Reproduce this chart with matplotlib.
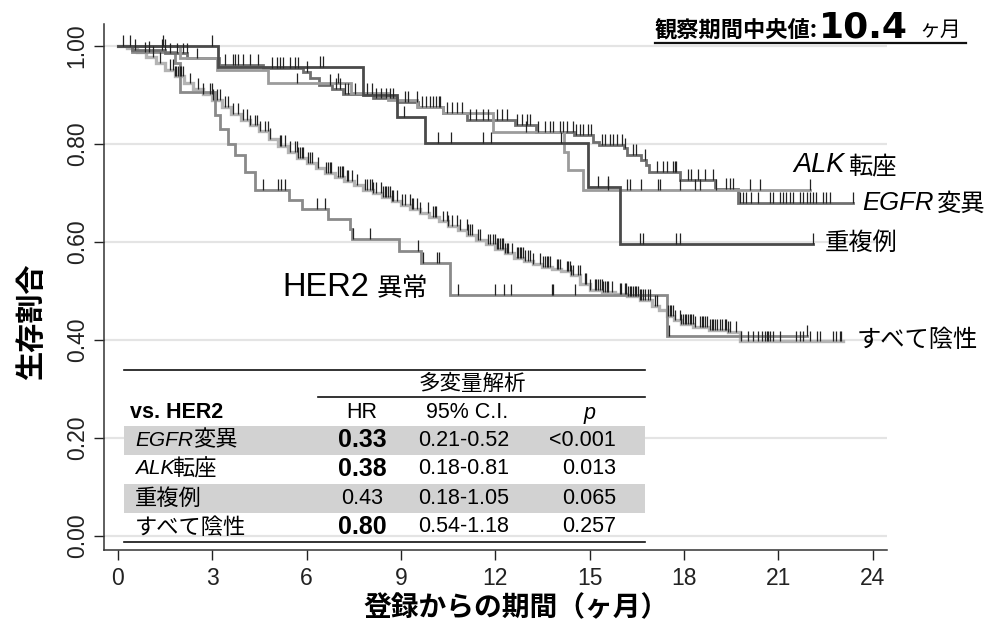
import numpy as np
import matplotlib.pyplot as plt
from matplotlib.transforms import Affine2D
from matplotlib.lines import Line2D
from matplotlib.patches import Rectangle

# ---- Kaplan-Meier step data: drop times (months) and survival after each drop
neg_t = [0.3, 0.6, 0.9, 1.2, 1.5, 1.8, 2.1, 2.4, 2.7, 3.0, 3.3, 3.6, 3.9, 4.2, 4.5, 4.8,
         5.1, 5.4, 5.7, 6.0, 6.3, 6.6, 6.9, 7.2, 7.5, 7.8, 8.1, 8.4, 8.7, 9.0, 9.3, 9.6,
         9.9, 10.2, 10.5, 10.8, 11.1, 11.4, 11.7, 12.0, 12.3, 12.6, 12.9, 13.2, 13.5, 13.8,
         14.1, 14.4, 14.7, 15.0, 15.4, 15.8, 16.2, 16.6, 17.0, 17.2, 17.45, 17.7, 17.9,
         18.3, 18.8, 19.4, 19.8]
neg_s = [0.995, 0.987, 0.978, 0.966, 0.952, 0.938, 0.924, 0.913, 0.903, 0.890, 0.876,
         0.862, 0.850, 0.838, 0.826, 0.810,
         0.796, 0.784, 0.772, 0.762, 0.752, 0.741, 0.733, 0.724, 0.716, 0.707, 0.700,
         0.692, 0.684, 0.676, 0.668, 0.659,
         0.652, 0.642, 0.633, 0.625, 0.615, 0.605, 0.595, 0.586, 0.577, 0.568, 0.562,
         0.556, 0.549, 0.544, 0.540, 0.532, 0.515,
         0.503, 0.498, 0.494, 0.489, 0.482, 0.470, 0.462, 0.449, 0.440, 0.432, 0.426,
         0.420, 0.416, 0.397]
neg_end = 23.06
neg_cens = [0.86, 1.12, 1.34, 1.65, 1.76, 1.81, 1.86, 1.92, 1.97, 2.02, 2.08, 2.29, 2.55,
            2.71, 2.92, 2.98, 3.03, 3.14, 3.24, 3.40, 3.51, 3.67, 3.83, 3.99, 4.09, 4.20,
            4.36, 4.41, 4.52, 4.67, 4.78, 4.83, 5.15, 5.20, 5.31, 5.47, 5.63, 5.68, 5.73,
            5.79, 5.84, 5.89, 6.05, 6.10, 6.16, 6.37, 6.63, 6.69, 6.74, 6.79, 7.01, 7.06,
            7.11, 7.16, 7.27, 7.32, 7.43, 7.59, 7.85, 7.91, 8.01, 8.07, 8.12, 8.22, 8.38,
            8.44, 8.49, 8.54, 8.60, 8.65, 8.70, 8.75, 8.86, 9.02, 9.13, 9.28, 9.34, 9.39,
            9.50, 9.60, 9.87, 10.03, 10.08, 10.13, 10.34, 10.45, 10.50, 10.61, 10.77,
            10.87, 11.09, 11.14, 11.19, 11.25, 11.46, 11.51, 11.78, 11.83, 11.93, 11.99,
            12.04, 12.09, 12.15, 12.20, 12.25, 12.30, 12.36, 12.41, 12.52, 12.68, 12.73,
            12.78, 12.83, 12.89, 12.94, 13.05, 13.10, 13.21, 13.42, 13.52, 13.58, 13.63,
            13.68, 13.74, 13.95, 14.0, 14.05, 14.27, 14.32, 14.37, 14.42, 14.48, 14.64,
            14.69, 14.85, 14.90, 15.01, 15.17, 15.22, 15.27, 15.33, 15.38, 15.43, 15.48,
            15.54, 15.59, 15.70, 15.96, 16.01, 16.12, 16.17, 16.23, 16.28, 16.33, 16.39,
            16.44, 16.49, 16.54, 16.60, 16.65, 16.70, 16.76, 16.86, 16.92, 17.07, 17.13,
            17.50, 17.55, 17.60, 17.66, 17.71, 17.87, 17.92, 17.98, 18.03, 18.08, 18.13,
            18.19, 18.24, 18.29, 18.35, 18.51, 18.56, 18.61, 18.66, 18.72, 18.82, 18.88,
            18.93, 18.98, 19.04, 19.14, 19.20, 19.30, 19.35, 19.41, 19.46, 19.67, 19.83,
            20.04, 20.2, 20.36, 20.47, 20.57, 20.63, 20.68, 20.73, 20.84, 21.05, 21.58,
            21.69, 21.79, 22.0, 22.22, 22.32, 22.75, 22.85, 22.96, 23.01]

her2_t = [0.43, 1.8, 1.97, 3.1, 3.25, 3.5, 3.72, 4.04, 4.36, 5.44, 5.84, 6.68, 7.38, 7.45,
          8.93, 9.65, 10.56, 17.45]
her2_s = [0.988, 0.965, 0.907, 0.86, 0.83, 0.80, 0.778, 0.743, 0.706, 0.686, 0.667, 0.646,
          0.627, 0.606, 0.582, 0.558, 0.492, 0.408]
her2_end = 21.9
her2_cens = [1.0, 4.62, 5.1, 5.17, 5.31, 6.32, 6.58, 7.48, 8.0, 9.53, 9.7, 10.15, 10.2, 10.8,
             12.0, 12.27, 12.5, 13.79, 13.84, 14.53, 17.52, 21.9]

egfr_t = [0.45, 1.5, 2.2, 3.2, 4.6, 5.9, 6.1, 6.4, 6.8, 7.17, 8.12, 8.86, 9.55, 10.34, 11.09,
          12.62, 13.31, 14.5, 15.11, 15.3, 16.1, 16.2, 16.65, 16.8, 16.9, 17.87, 18.98, 19.72]
egfr_s = [0.992, 0.985, 0.975, 0.962, 0.955, 0.948, 0.935, 0.92, 0.912, 0.903, 0.893, 0.886,
          0.876, 0.863, 0.849, 0.839, 0.825, 0.818, 0.805, 0.798, 0.791, 0.778, 0.767, 0.757,
          0.743, 0.727, 0.708, 0.68]
egfr_end = 23.38
egfr_cens = [0.38, 0.54, 1.39, 1.49, 1.65, 1.87, 2.08, 2.18, 3.40, 3.67, 3.72, 3.83, 3.98,
             4.20, 4.46, 4.9, 5.05, 5.15, 5.25, 5.47, 5.63, 5.74, 6.0, 6.74, 6.95, 7.06, 7.22,
             7.32, 7.54, 7.91, 8.07, 8.22, 8.38, 8.54, 8.65, 8.75, 9.13, 9.23, 9.50, 9.66,
             9.81, 9.92, 10.03, 10.13, 10.24, 10.45, 10.61, 10.77, 10.93, 11.19, 11.40,
             11.62, 11.77, 12.04, 12.20, 12.36, 12.68, 12.84, 13.0, 13.1, 13.37, 13.58,
             13.74, 13.84, 14.05, 14.16, 14.27, 14.48, 14.58, 14.69, 14.80, 14.95, 15.06,
             15.38, 15.48, 15.64, 15.75, 15.86, 16.02, 16.12, 16.39, 16.49, 16.76, 17.13,
             17.34, 17.45, 17.66, 17.71, 17.76, 18.13, 18.24, 18.45, 18.66, 18.93, 19.35,
             19.46, 19.57, 19.78, 19.88, 19.99, 20.15, 20.36, 20.73, 20.84, 21.05, 21.15,
             21.26, 21.37, 21.47, 21.68, 21.79, 21.9, 22.0, 22.11, 22.21, 22.43, 22.53,
             22.64, 23.38]

alk_t = [1.97, 3.14, 4.78, 7.4, 8.6, 9.5, 10.34, 11.93, 14.2, 14.3, 14.8]
alk_s = [0.975, 0.951, 0.924, 0.905, 0.89, 0.876, 0.863, 0.825, 0.784, 0.747, 0.706]
alk_end = 22.0
alk_cens = [0.17, 1.42, 2.5, 5.68, 7.0, 10.2, 12.98, 15.59, 16.18, 16.28, 16.65, 17.18,
            17.23, 17.87, 18.34, 18.5, 19.03, 20.09, 20.41, 22.0]

dup_t = [3.19, 7.8, 8.86, 9.76, 14.96, 15.96]
dup_s = [0.958, 0.90, 0.856, 0.803, 0.713, 0.596]
dup_end = 22.1
dup_cens = [2.98, 6.42, 6.53, 9.1, 10.19, 10.58, 11.6, 11.85, 14.1, 15.27, 15.59, 16.6, 16.7,
            17.76, 17.87, 22.1]

# ---- multivariate table
tbl_lat = ["EGFR", "ALK", "", ""]
tbl_jp = ["変異", "転座", "重複例", "すべて陰性"]
tbl_hr = ["0.33", "0.38", "0.43", "0.80"]
tbl_hr_bold = [True, True, False, True]
tbl_ci = ["0.21-0.52", "0.18-0.81", "0.18-1.05", "0.54-1.18"]
tbl_p = ["<0.001", "0.013", "0.065", "0.257"]

x_ticks = [0, 3, 6, 9, 12, 15, 18, 21, 24]
y_ticks = [0.0, 0.2, 0.4, 0.6, 0.8, 1.0]

JP = ["Noto Sans CJK JP", "DejaVu Sans"]
LAT = ["Liberation Sans", "Noto Sans CJK JP", "DejaVu Sans"]
NAR = ["Liberation Sans Narrow", "Liberation Sans", "Noto Sans CJK JP"]

W, H = 993, 624
fig = plt.figure(figsize=(W / 100, H / 100), dpi=100)
px = Affine2D().scale(1 / W, -1 / H).translate(0, 1) + fig.transFigure

ax = fig.add_axes([104 / W, 1 - 550 / H, (887 - 104) / W, (550 - 24) / H])
ax.set_xlim(-0.445, 24.46)
ax.set_ylim(-0.0286, 1.045)
for s in ["top", "right"]:
    ax.spines[s].set_visible(False)
for s in ["left", "bottom"]:
    ax.spines[s].set_color("#333333")
    ax.spines[s].set_linewidth(1.1)

for yv in y_ticks:
    ax.axhline(yv, color="#e4e4e4", lw=1.6, zorder=0)


def km(times, surv, end, cens, color, lw):
    xs = [0] + list(times) + [end]
    ys = [1.0] + list(surv) + [surv[-1]]
    ax.plot(xs, ys, drawstyle="steps-post", color=color, lw=lw, zorder=2,
            solid_joinstyle="miter")
    levels = np.array([1.0] + list(surv))
    idx = np.searchsorted(np.array(times), np.array(cens), side="right")
    yc = levels[idx]
    ax.vlines(cens, yc, yc + 0.022, color="#222222", lw=0.9, zorder=3)


km(neg_t, neg_s, neg_end, neg_cens, "#b4b4b4", 2.4)
km(her2_t, her2_s, her2_end, her2_cens, "#8a8a8a", 2.0)
km(egfr_t, egfr_s, egfr_end, egfr_cens, "#707070", 2.0)
km(alk_t, alk_s, alk_end, alk_cens, "#9c9c9c", 2.0)
km(dup_t, dup_s, dup_end, dup_cens, "#4a4a4a", 2.0)

ax.set_xticks(x_ticks)
ax.set_xticklabels([str(v) for v in x_ticks], family=NAR, fontsize=16.5)
ax.set_yticks(y_ticks)
ax.set_yticklabels([f"{v:.2f}" for v in y_ticks], family=NAR, fontsize=16.5,
                   rotation=90, va="center")
ax.tick_params(axis="x", direction="out", length=7, width=1, pad=5, colors="#222222")
ax.tick_params(axis="y", direction="out", length=7, width=1, pad=4, colors="#222222")

# axis titles
fig.text(516, 608, "登録からの期間（ヶ月）", transform=px, family=JP, fontsize=20,
         fontweight="bold", ha="center", va="center")
fig.text(31, 322, "生存割合", transform=px, family=JP, fontsize=21, fontweight="bold",
         rotation=90, ha="center", va="center")

# median follow-up
fig.text(655, 30, "観察期間中央値:", transform=px, family=JP, fontsize=16,
         fontweight="bold", ha="left", va="center")
fig.text(819, 27, "10.4", transform=px, family=["DejaVu Sans"], fontsize=26,
         fontweight="bold", ha="left", va="center")
fig.text(919, 30, "ヶ月", transform=px, family=JP, fontsize=15, ha="left", va="center")
fig.add_artist(Line2D([655, 966], [43, 43], transform=px, color="#111111", lw=1.6))

# curve labels
fig.text(793, 165, "ALK", transform=px, family=LAT, fontsize=19.5, style="italic",
         ha="left", va="center")
fig.text(848, 166, "転座", transform=px, family=JP, fontsize=17.5, ha="left", va="center")
fig.text(862, 203, "EGFR", transform=px, family=LAT, fontsize=18.5, style="italic",
         ha="left", va="center")
fig.text(937, 204, "変異", transform=px, family=JP, fontsize=17.5, ha="left", va="center")
fig.text(825, 243, "重複例", transform=px, family=JP, fontsize=17.5, ha="left", va="center")
fig.text(857, 340, "すべて陰性", transform=px, family=JP, fontsize=17.5, ha="left",
         va="center")
fig.text(282, 287, "HER2", transform=px, family=LAT, fontsize=23.5, ha="left", va="center")
fig.text(377, 289, "異常", transform=px, family=JP, fontsize=18.5, ha="left", va="center")

# table
TL, TR = 124, 645
for y0, y1 in [(426, 455), (484, 513)]:
    fig.add_artist(Rectangle((TL, y0), TR - TL, y1 - y0, transform=px,
                             facecolor="#d2d2d2", edgecolor="none"))
for xa, y in [(TL, 370), (318, 397), (TL, 542)]:
    fig.add_artist(Line2D([xa, TR], [y, y], transform=px, color="#111111", lw=1.2))

fig.text(472, 384, "多変量解析", transform=px, family=JP, fontsize=15.5, ha="center",
         va="center")
fig.text(130, 412, "vs. HER2", transform=px, family=LAT, fontsize=15.5, fontweight="bold",
         ha="left", va="center")
fig.text(362, 412, "HR", transform=px, family=NAR, fontsize=15.5, ha="center", va="center")
fig.text(467, 412, "95% C.I.", transform=px, family=NAR, fontsize=15.5, ha="center",
         va="center")
fig.text(590, 414, "p", transform=px, family=LAT, fontsize=15.5, style="italic",
         ha="center", va="center")

row_y = [440, 469, 498, 527]
for i, y in enumerate(row_y):
    xn = 135
    if tbl_lat[i]:
        fig.text(xn, y, tbl_lat[i], transform=px, family=LAT, fontsize=15,
                 style="italic", ha="left", va="center")
        xn = 135 + (58 if tbl_lat[i] == "EGFR" else 37)
    fig.text(xn, y, tbl_jp[i], transform=px, family=JP, fontsize=16, ha="left",
             va="center")
    fig.text(362, y, tbl_hr[i], transform=px, family=NAR,
             fontsize=18 if tbl_hr_bold[i] else 15.5,
             fontweight="bold" if tbl_hr_bold[i] else "normal", ha="center", va="center")
    fig.text(464, y, tbl_ci[i], transform=px, family=NAR, fontsize=15.5, ha="center",
             va="center")
    fig.text(616, y, tbl_p[i], transform=px, family=NAR, fontsize=15.5, ha="right",
             va="center")

fig.savefig("out.png", dpi=100)
